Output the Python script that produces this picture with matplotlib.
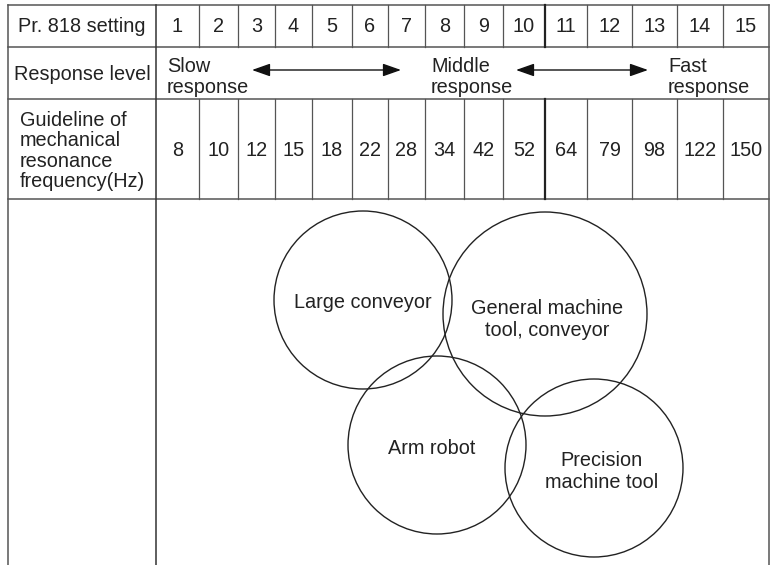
import matplotlib
matplotlib.use("Agg")
import matplotlib.pyplot as plt
from matplotlib.patches import Circle

# ---- data ----
settings = [str(i) for i in range(1, 16)]
freqs = ["8", "10", "12", "15", "18", "22", "28", "34", "42", "52", "64", "79", "98", "122", "150"]
row_labels = ["Pr. 818 setting", "Response level",
              "Guideline of\nmechanical\nresonance\nfrequency(Hz)"]
response_labels = ["Slow\nresponse", "Middle\nresponse", "Fast\nresponse"]
applications = ["Large conveyor", "General machine\ntool, conveyor",
                "Arm robot", "Precision\nmachine tool"]

# ---- layout (pixel coordinates) ----
W, H = 774, 565
col_edges = [156, 199, 238, 275, 312, 352, 388, 425, 464, 503, 545, 587, 632, 677, 723, 769]
left, right = 8, 769
row_y = [5, 47, 99, 199]
circles = [(363, 300, 89), (545, 314, 102), (437, 445, 89), (594, 468, 89)]
label_pos = [(363, 303), (547, 320), (432, 449), (602, 472)]

plt.rcParams['font.family'] = ['Liberation Sans', 'DejaVu Sans']
fs = 14.3
lc = '#555555'
tc = '#222222'

fig = plt.figure(figsize=(W / 100, H / 100), dpi=100)
ax = fig.add_axes([0, 0, 1, 1])
ax.set_xlim(0, W)
ax.set_ylim(H, 0)
ax.axis('off')

# outer / horizontal lines
for y in row_y:
    ax.plot([left, right], [y, y], color=lc, lw=1.1)
ax.plot([left, left], [row_y[0], H], color=lc, lw=1.1)
ax.plot([right, right], [row_y[0], H], color=lc, lw=1.1)
ax.plot([col_edges[0], col_edges[0]], [row_y[0], H], color='#333333', lw=1.1)

# internal column lines for rows 1 and 3
for i, x in enumerate(col_edges[1:-1]):
    lw = 1.6 if i == 9 else 0.9
    c = '#222222' if i == 9 else lc
    ax.plot([x, x], [row_y[0], row_y[1]], color=c, lw=lw)
    ax.plot([x, x], [row_y[2], row_y[3]], color=c, lw=lw)

# row labels
ax.text(82, 27, row_labels[0], ha='center', va='center', fontsize=fs, color=tc)
ax.text(82, 74, row_labels[1], ha='center', va='center', fontsize=fs, color=tc)
ax.text(20, 151, row_labels[2], ha='left', va='center', fontsize=fs,
        linespacing=1.1, color=tc)

# settings and frequencies
for i in range(15):
    cx = (col_edges[i] + col_edges[i + 1]) / 2
    ax.text(cx, 27, settings[i], ha='center', va='center', fontsize=fs, color=tc)
    ax.text(cx, 150, freqs[i], ha='center', va='center', fontsize=fs, color=tc)

# response level row
resp_x = [167, 431, 668]
for x, t in zip(resp_x, response_labels):
    ax.text(x, 77, t, ha='left', va='center', fontsize=fs, linespacing=1.12, color=tc)
for x0, x1 in [(252, 401), (516, 648)]:
    ax.annotate('', xy=(x1, 70), xytext=(x0, 70),
                arrowprops=dict(arrowstyle='<|-|>,head_length=0.85,head_width=0.3',
                                color='#111111', lw=1,
                                mutation_scale=13, shrinkA=0, shrinkB=0))

# application circles
for (cx, cy, r), (tx, ty), name in zip(circles, label_pos, applications):
    ax.add_patch(Circle((cx, cy), r, fill=False, ec='#222222', lw=1))
    ax.text(tx, ty, name, ha='center', va='center', fontsize=fs,
            linespacing=1.2, color=tc)

fig.savefig('out.png', dpi=100)
